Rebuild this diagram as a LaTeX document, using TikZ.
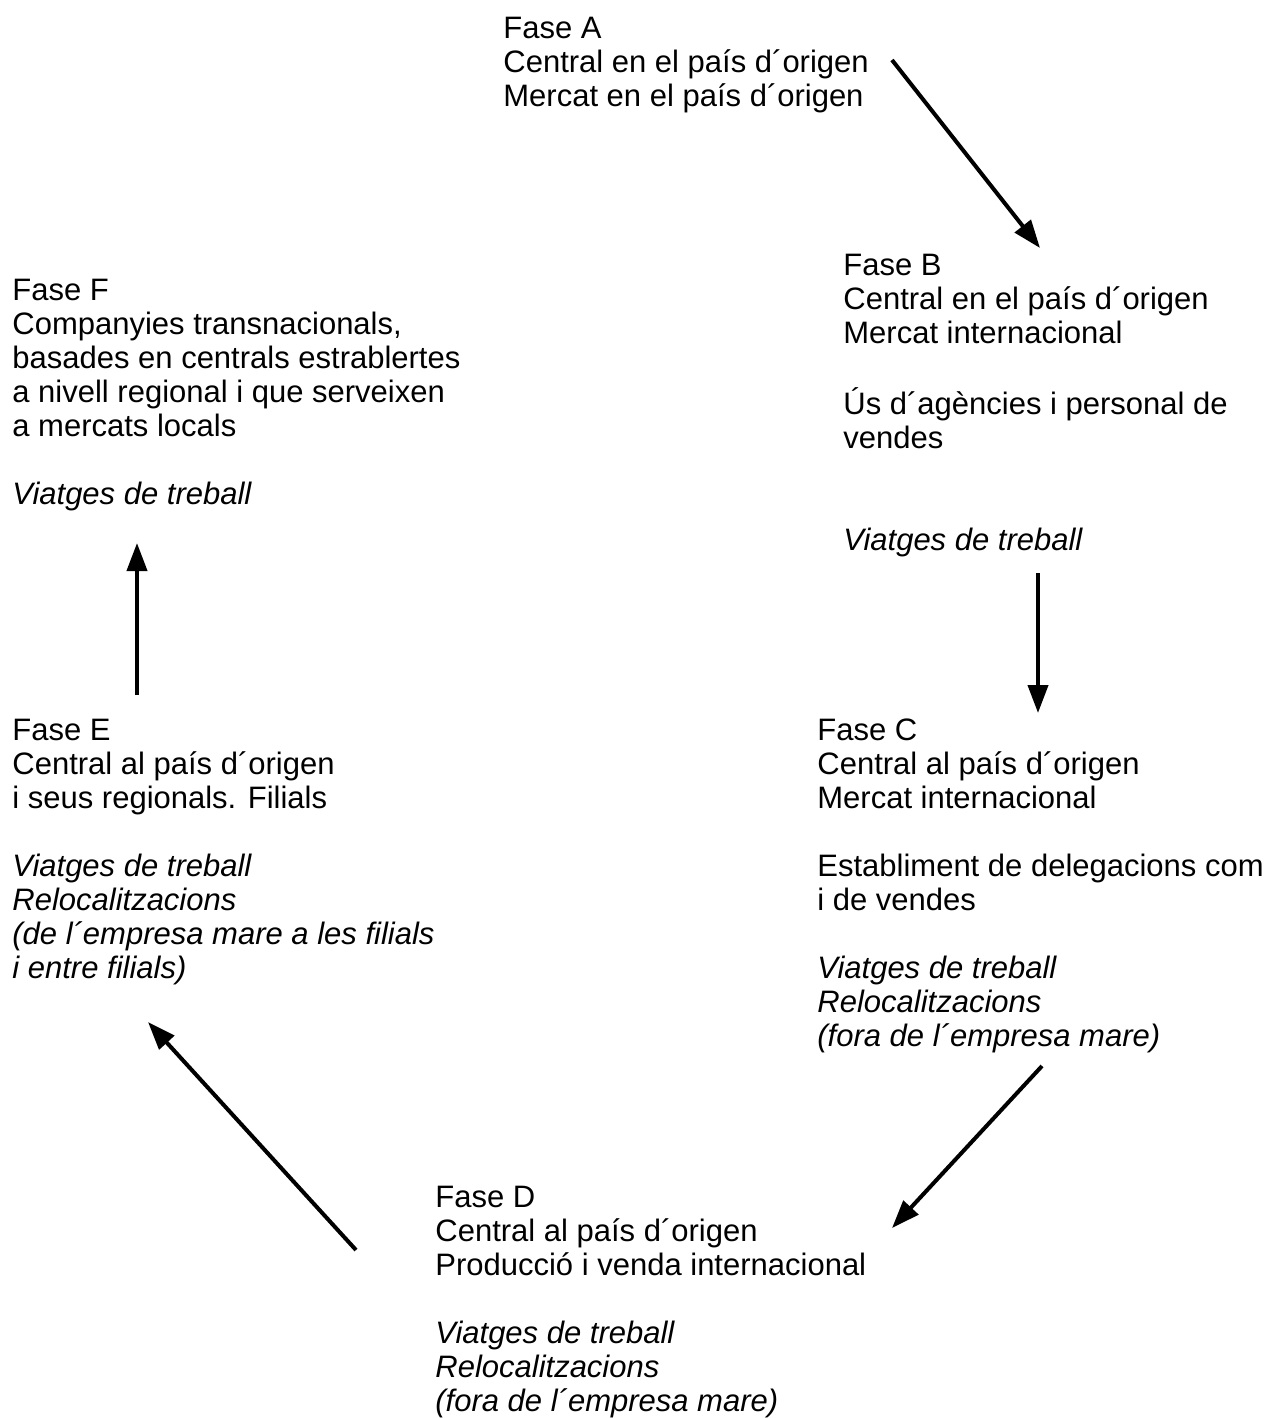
\documentclass[tikz,border=0pt]{standalone}
\usepackage{fontspec}
\setmainfont{Liberation Sans}
\usetikzlibrary{arrows.meta}
% one left-aligned block of lines, its first baseline on the node's base
\newcommand{\phasetext}[1]{\begin{tabular}[t]{@{}l@{}}#1\end{tabular}}
\begin{document}
\begin{tikzpicture}[x=0.5pt,y=-0.5pt,
  phase/.style={anchor=base west, inner sep=0pt, font=\fontsize{15.5}{17}\selectfont},
  flow/.style={line width=2pt, -{Triangle[length=14pt,width=10pt]}}]
\useasboundingbox (0,0) rectangle (1263,1418);
\clip (0,0) rectangle (1263,1418);

% phases
\node[phase] (A) at (503,39) {\phasetext{Fase A\\
  Central en el país d´origen\\
  Mercat en el país d´origen}};

\node[phase] (B) at (843,275) {\phasetext{Fase B\\
  Central en el país d´origen\\
  Mercat internacional\\ \\
  Ús d´agències i personal de\\
  vendes\\ \\ \\
  \textit{Viatges de treball}}};

\node[phase] (C) at (817,740) {\phasetext{Fase C\\
  Central al país d´origen\\
  Mercat internacional\\ \\
  Establiment de delegacions com\\
  i de vendes\\ \\
  \textit{Viatges de treball}\\
  \textit{Relocalitzacions}\\
  \textit{(fora de l´empresa mare)}}};

\node[phase] (D) at (435,1207) {\phasetext{Fase D\\
  Central al país d´origen\\
  Producció i venda internacional\\ \\
  \textit{Viatges de treball}\\
  \textit{Relocalitzacions}\\
  \textit{(fora de l´empresa mare)}}};

\node[phase] (E) at (12,740) {\phasetext{Fase E\\
  Central al país d´origen\\
  i seus regionals. Filials\\ \\
  \textit{Viatges de treball}\\
  \textit{Relocalitzacions}\\
  \textit{(de l´empresa mare a les filials}\\
  \textit{i entre filials)}}};

\node[phase] (F) at (12,300) {\phasetext{Fase F\\
  Companyies transnacionals,\\
  basades en centrals estrablertes\\
  a nivell regional i que serveixen\\
  a mercats locals\\ \\
  \textit{Viatges de treball}}};

% arrow ends
\coordinate (ab1) at (892,60);   \coordinate (ab2) at (1040,248);
\coordinate (bc1) at (1038,573); \coordinate (bc2) at (1038,713);
\coordinate (cd1) at (1042,1066);\coordinate (cd2) at (892,1228);
\coordinate (de1) at (356,1250); \coordinate (de2) at (148,1022);
\coordinate (ef1) at (137,695);  \coordinate (ef2) at (137,543);

\draw[flow] (ab1) -- (ab2);
\draw[flow] (bc1) -- (bc2);
\draw[flow] (cd1) -- (cd2);
\draw[flow] (de1) -- (de2);
\draw[flow] (ef1) -- (ef2);
\end{tikzpicture}
\end{document}
